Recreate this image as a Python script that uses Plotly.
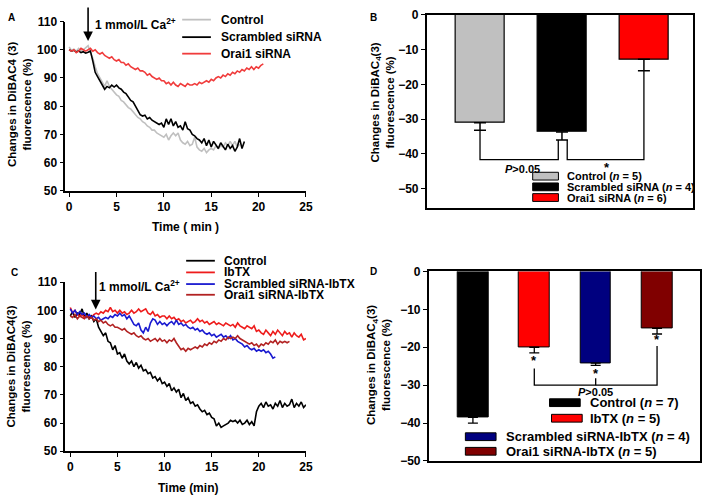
import plotly.graph_objects as go

W, H = 709, 503
def px(x): return x / W
def py(y): return 1 - y / H

DT = 0.25  # sampling interval (min)

# ---------------- Panel A data ----------------
a_names = ["Control", "Scrambled siRNA", "Orai1 siRNA"]
a_colors = ["#c0c0c0", "#000000", "#f03c3c"]
a_control = [101, 99.8, 100.2, 99.5, 100.5, 99.7, 100, 100.8, 101.5, 99, 97, 94, 91.5, 90, 88.5, 87, 89,
             87, 86, 85, 84, 83.5, 82, 81.5, 80.5, 79.5, 79, 78, 77, 76, 75.5, 74.5, 74, 73, 72.5, 71.5, 71.5,
             70.5, 70, 69.5, 69, 70, 68, 69.5, 70.5, 69.5, 70.5, 68, 67, 66.5, 67.5, 66, 66.5, 69, 65.5, 64.5,
             64, 65, 63.5, 64.5, 65, 64.5, 66, 65, 66, 65.5, 67, 66, 67.5, 66, 67.5, 65.5, 66.5]
a_scrambled = [100, 99.5, 99.8, 99.2, 99.6, 99.0, 99.3, 98.8, 99.1, 99.5, 96, 92, 90.5, 89, 87.5, 86, 87,
               86.5, 87.5, 86.8, 87.5, 86.5, 86, 85, 84.5, 83, 82, 81.5, 80, 78.5, 77, 76.5, 76.8, 75.5, 76,
               75, 74.5, 74, 73.5, 74, 72.5, 75.5, 73.5, 75.5, 73, 74.5, 72.5, 73, 71.5, 74.5, 72, 71.5, 70,
               69.5, 68.5, 68, 67, 68.5, 66, 68, 65.5, 67.5, 66, 65, 67, 65.5, 64.5, 66.5, 65, 66, 64, 65.5,
               68.5, 65, 67.5]
a_orai1 = [100, 99.5, 100, 99, 99.5, 100.5, 100, 99.5, 100, 100.5, 99.5, 100, 99, 98.5, 99, 98, 97.5,
           97, 97.5, 96.5, 96, 96.5, 95.5, 95.5, 94.5, 95, 94, 93.5, 93, 93.5, 92.5, 92.5, 92, 91, 91.5, 90.5,
           90, 89.5, 90, 89, 89, 88, 88.5, 87.5, 88.5, 87.5, 87, 88, 87.5, 87, 88, 87.5, 87.5, 88, 87.5, 88.5,
           88, 88.5, 89, 88.5, 89.5, 89, 90, 90.5, 90, 91, 90.5, 91.5, 91, 92, 91.5, 92.5, 92, 93, 92.5, 93.5,
           93, 94, 93, 94, 93.5, 94.5, 95]
a_series = [a_control, a_scrambled, a_orai1]

# ---------------- Panel B data ----------------
b_names = ["Control", "Scrambled siRNA", "Orai1 siRNA"]
b_n = [5, 4, 6]
b_mean = [-31.0, -33.7, -12.8]
b_err = [2.2, 2.3, 3.3]
b_colors = ["#c0c0c0", "#000000", "#ff0000"]

# ---------------- Panel C data ----------------
c_names = ["Control", "IbTX", "Scrambled siRNA-IbTX", "Orai1 siRNA-IbTX"]
c_colors = ["#000000", "#ee1c1c", "#1a1ad0", "#b22222"]
c_control = [98, 99.5, 97.5, 99, 98.5, 100.5, 97.5, 99, 97, 98, 96, 97, 94, 92.5, 91, 92, 89, 88.5, 86,
             87.5, 84.5, 85, 83, 84.5, 82, 81, 82, 80, 81.5, 79.5, 80.5, 78.5, 79, 77.5, 78, 76, 76.5, 75,
             76, 74, 74.5, 73, 74, 71.5, 72.5, 71, 72, 69, 70.5, 68, 69, 67, 67.5, 66, 66.5, 65, 64, 64.5,
             63, 63.5, 62, 61.5, 59, 60, 58.5, 59, 59.5, 60, 61, 60.5, 61, 60, 61, 59.5, 60, 61, 59.5, 60.5,
             59, 64, 66, 67, 65.5, 67.5, 66, 66.5, 65, 67, 66, 68, 65.5, 67, 66, 66.5, 68.5, 65.5, 67, 66,
             67.5, 65.5, 66.5]
c_ibtx = [101, 99, 100, 98.5, 98, 98.5, 97.5, 98, 98, 97.5, 98.5, 99, 98.5, 99.5, 99, 100, 99.5, 101,
          99.5, 100, 99, 100, 99, 99.5, 98.5, 99, 100, 99, 99.5, 100.5, 99.5, 100, 100.5, 99, 98.5, 99.5, 98,
          98.5, 97.5, 98, 98, 97, 98, 97, 97.5, 96.5, 97, 96, 96.5, 95.5, 96, 96.5, 95.5, 96, 97, 96, 96.5,
          95.5, 96, 95, 95.5, 96, 95, 95.5, 95, 94.5, 95.5, 95, 94.5, 95, 94, 95.5, 94.5, 94, 93.5, 94.5, 94,
          93.5, 94.5, 92.5, 93, 92, 91.5, 93, 92, 91, 92.5, 91.5, 93, 92, 91, 92.5, 91.5, 92, 90.5, 92, 91,
          90.5, 91.5, 89.5, 90]
c_scrambled = [100.5, 99, 100, 98.5, 99.5, 98.5, 99, 97.5, 98.5, 97.5, 98, 97, 97.5, 96.5, 97, 97.5, 97,
               98, 97.5, 98.5, 98, 99, 98, 98.5, 97, 98, 96.5, 95, 94.5, 95.5, 93, 92, 94, 92.5, 95.5, 97,
               96.5, 95, 96, 95, 95.5, 94.5, 95.5, 96, 95, 96.5, 95, 95.5, 94.5, 95, 94, 93.5, 94, 93, 93.5,
               92.5, 93, 92, 91.5, 92, 91, 91.5, 90.5, 91, 91.5, 90.5, 91, 90, 91, 89.5, 90, 89, 88.5, 88, 87,
               87.5, 86.5, 86, 86.5, 85.5, 86, 85.5, 86, 85, 85.5, 84.5, 83, 83.5]
c_orai1 = [98, 97.5, 98.5, 97, 98, 97.5, 97, 98, 97, 97.5, 96.5, 97, 96, 96.5, 95.5, 96, 95, 94.5, 95, 94,
           94, 93.5, 93, 93.5, 92.5, 92, 91.5, 92, 91, 90.5, 91, 90, 89.5, 90, 89, 89.5, 90, 89, 90, 89, 89.5,
           88.5, 89.5, 89, 90, 88.5, 87, 86, 86.5, 85.5, 86.5, 86, 86.5, 87, 86.5, 87.5, 87, 88, 87.5, 88.5,
           88, 89, 88.5, 89.5, 89, 90, 89.5, 90.5, 90, 90.5, 90, 91, 90, 89.5, 89, 88.5, 88, 88.5, 87.5, 88,
           87, 88, 87.5, 88.5, 88, 89, 88.5, 89.5, 88, 89, 88.5, 89, 88.5, 89]
c_series = [c_control, c_ibtx, c_scrambled, c_orai1]

# ---------------- Panel D data ----------------
d_names = ["Control", "IbTX", "Scrambled siRNA-IbTX", "Orai1 siRNA-IbTX"]
d_n = [7, 5, 4, 5]
d_mean = [-38.5, -20.0, -24.2, -15.0]
d_err = [1.5, 1.5, 0.6, 1.5]
d_colors = ["#000000", "#ff0000", "#00007f", "#800000"]

x_ticks = [0, 5, 10, 15, 20, 25]
a_yticks = [50, 60, 70, 80, 90, 100, 110]
b_yticks = [0, -10, -20, -30, -40, -50]
d_yticks = [0, -10, -20, -30, -40, -50]

FONT = "Liberation Sans, Arial, sans-serif"
def f(size, color="black"):
    return dict(family=FONT, size=size, color=color, weight="bold")

def times(vals):
    return [i * DT for i in range(len(vals))]

fig = go.Figure()

for vals, name, col in zip(a_series, a_names, a_colors):
    fig.add_trace(go.Scatter(x=times(vals), y=vals, mode="lines", name=name,
                             line=dict(color=col, width=1.6), xaxis="x", yaxis="y", showlegend=False))

fig.add_trace(go.Bar(x=list(range(len(b_mean))), y=b_mean, width=0.6,
                     marker=dict(color=b_colors, line=dict(color="black", width=1.2)),
                     error_y=dict(type="data", symmetric=False, array=[0] * len(b_err), arrayminus=b_err,
                                  color="black", thickness=1.5, width=6),
                     xaxis="x2", yaxis="y2", showlegend=False))

for vals, name, col in zip(c_series, c_names, c_colors):
    fig.add_trace(go.Scatter(x=times(vals), y=vals, mode="lines", name=name,
                             line=dict(color=col, width=1.6), xaxis="x3", yaxis="y3", showlegend=False))

fig.add_trace(go.Bar(x=list(range(len(d_mean))), y=d_mean, width=0.5,
                     marker=dict(color=d_colors, line=dict(color="black", width=1)),
                     error_y=dict(type="data", symmetric=False, array=[0] * len(d_err), arrayminus=d_err,
                                  color="black", thickness=1.3, width=5),
                     xaxis="x4", yaxis="y4", showlegend=False))

ax_common = dict(showline=True, linecolor="black", linewidth=1.6, ticks="outside", ticklen=4,
                 tickwidth=1.3, tickcolor="black", showgrid=False, zeroline=False, tickfont=f(12))

fig.update_layout(
    width=W, height=H, margin=dict(l=0, r=0, t=0, b=0),
    paper_bgcolor="white", plot_bgcolor="white", bargap=0,
    xaxis=dict(domain=[px(66), px(309)], range=[-0.4, 25], tickvals=x_ticks, anchor="y", **ax_common),
    yaxis=dict(domain=[py(189), py(15)], range=[50, 110], tickvals=a_yticks, anchor="x", **ax_common),
    xaxis2=dict(domain=[px(431), px(700)], range=[-0.65, 2.6], showline=True, linecolor="black",
                linewidth=1.6, mirror=True, showticklabels=False, ticks="", showgrid=False,
                zeroline=False, anchor="y2"),
    yaxis2=dict(domain=[py(207), py(8)], range=[-55.6, 0], tickvals=b_yticks, anchor="x2", mirror=True,
                **ax_common),
    xaxis3=dict(domain=[px(66), px(309)], range=[-0.525, 25], tickvals=x_ticks, anchor="y3", **ax_common),
    yaxis3=dict(domain=[py(457), py(283)], range=[50, 110], tickvals=a_yticks, anchor="x3", **ax_common),
    xaxis4=dict(domain=[px(433), px(707)], range=[-0.72, 3.7], showline=True, linecolor="black",
                linewidth=1.6, mirror=True, showticklabels=False, ticks="", showgrid=False,
                zeroline=False, anchor="y4"),
    yaxis4=dict(domain=[py(467), py(272)], range=[-50, 0], tickvals=d_yticks, anchor="x4", mirror=True,
                **ax_common),
)

ann = []
shapes = []

def text(x, y, s, size, xanchor="center", yanchor="middle", angle=0, ref="paper"):
    d = dict(x=x, y=y, text=s, showarrow=False, font=f(size), xanchor=xanchor, yanchor=yanchor,
             textangle=angle)
    if ref == "paper":
        d.update(xref="paper", yref="paper")
    else:
        d.update(xref=ref[0], yref=ref[1])
    ann.append(d)

# panel labels
text(px(12), py(11), "A", 10)
text(px(377), py(11), "B", 10)
text(px(15), py(273), "C", 10)
text(px(377), py(272), "D", 10)

# axis titles
text(px(187), py(226), "Time ( min )", 12)
text(px(190), py(495), "Time (min)", 12)
text(px(19), py(100), "Changes in DiBAC4 (3)<br>fluorescence (%)", 11.5, angle=-90)
text(px(386), py(98), "Changes in DiBAC<sub>4</sub>(3)<br>fluorescence (%)", 11.5, angle=-90)
text(px(19), py(370), "Changes in DiBAC4(3)<br>fluorescence (%)", 11.5, angle=-90)
text(px(383), py(368), "Changes in DiBAC<sub>4</sub>(3)<br>fluorescence (%)", 11.5, angle=-90)

# Ca2+ arrows
ann.append(dict(x=2.0, y=103.1, xref="x", yref="y", ax=0, ay=-35, showarrow=True, arrowhead=2,
                arrowsize=1.2, arrowwidth=1.6, arrowcolor="black", text=""))
text(px(94), py(17), "1 mmol/L Ca<sup>2+</sup>", 12, xanchor="left")
ann.append(dict(x=2.7, y=100.3, xref="x3", yref="y3", ax=0, ay=-39, showarrow=True, arrowhead=2,
                arrowsize=1.2, arrowwidth=1.6, arrowcolor="black", text=""))
text(px(98), py(287), "1 mmol/L Ca<sup>2+</sup>", 12, xanchor="left")

# legends A and C
for i, (name, col) in enumerate(zip(a_names, a_colors)):
    yy = [13, 31, 48][i]
    shapes.append(dict(type="line", xref="paper", yref="paper", x0=px(184), x1=px(213), y0=py(yy), y1=py(yy),
                       line=dict(color=col, width=1.8)))
    text(px(221), py(yy), name, 12, xanchor="left")
for i, (name, col) in enumerate(zip(c_names, c_colors)):
    yy = [261, 273, 285, 296][i]
    shapes.append(dict(type="line", xref="paper", yref="paper", x0=px(188), x1=px(217), y0=py(yy), y1=py(yy),
                       line=dict(color=col, width=1.8)))
    text(px(224), py(yy), name, 12, xanchor="left")

# legend B
for i, (name, col, n) in enumerate(zip(b_names, b_colors, b_n)):
    yy = [174, 185, 196][i]
    shapes.append(dict(type="rect", xref="paper", yref="paper", x0=px(538), x1=px(564), y0=py(yy + 4),
                       y1=py(yy - 4), fillcolor=col, line=dict(color="black", width=1)))
    text(px(571), py(yy), f"{name} (<i>n</i> = {n})", 11, xanchor="left")

# legend D
d_leg = [(555, 407, 594), (557, 423, 594), (470, 442, 509), (470, 457, 509)]
for (x0, yy, tx), name, col, n in zip(d_leg, d_names, d_colors, d_n):
    shapes.append(dict(type="rect", xref="paper", yref="paper", x0=px(x0), x1=px(x0 + 31), y0=py(yy + 4),
                       y1=py(yy - 4), fillcolor=col, line=dict(color="black", width=1)))
    text(px(tx), py(yy), f"{name} (<i>n</i> = {n})", 13, xanchor="left")

# significance brackets B
br = dict(color="black", width=1.3)
shapes.append(dict(type="path", xref="x2", yref="y2", path="M 0 -33.2 L 0 -41.6 L 0.955 -41.6 L 0.955 -36",
                   line=br))
shapes.append(dict(type="path", xref="x2", yref="y2", path="M 1.064 -36 L 1.064 -41.6 L 2 -41.6 L 2 -16.1",
                   line=br))
text(0.52, -44.3, "<i>P</i>>0.05", 11, ref=("x2", "y2"))
text(1.55, -43.8, "*", 13, ref=("x2", "y2"))

# significance brackets D
shapes.append(dict(type="path", xref="x4", yref="y4", path="M 1 -25.6 L 1 -30 L 3 -30 L 3 -19.7", line=br))
shapes.append(dict(type="line", xref="x4", yref="y4", x0=2, x1=2, y0=-28.2, y1=-30, line=br))
text(2.0, -31.8, "<i>P</i>>0.05", 11, ref=("x4", "y4"))
text(1.0, -23.4, "*", 13, ref=("x4", "y4"))
text(2.0, -27.0, "*", 13, ref=("x4", "y4"))
text(3.0, -18.0, "*", 13, ref=("x4", "y4"))

fig.update_layout(annotations=ann, shapes=shapes)
fig.write_html("out.html", config={"displayModeBar": False},
               post_script="document.body.style.margin='0';document.body.style.overflow='hidden';")
